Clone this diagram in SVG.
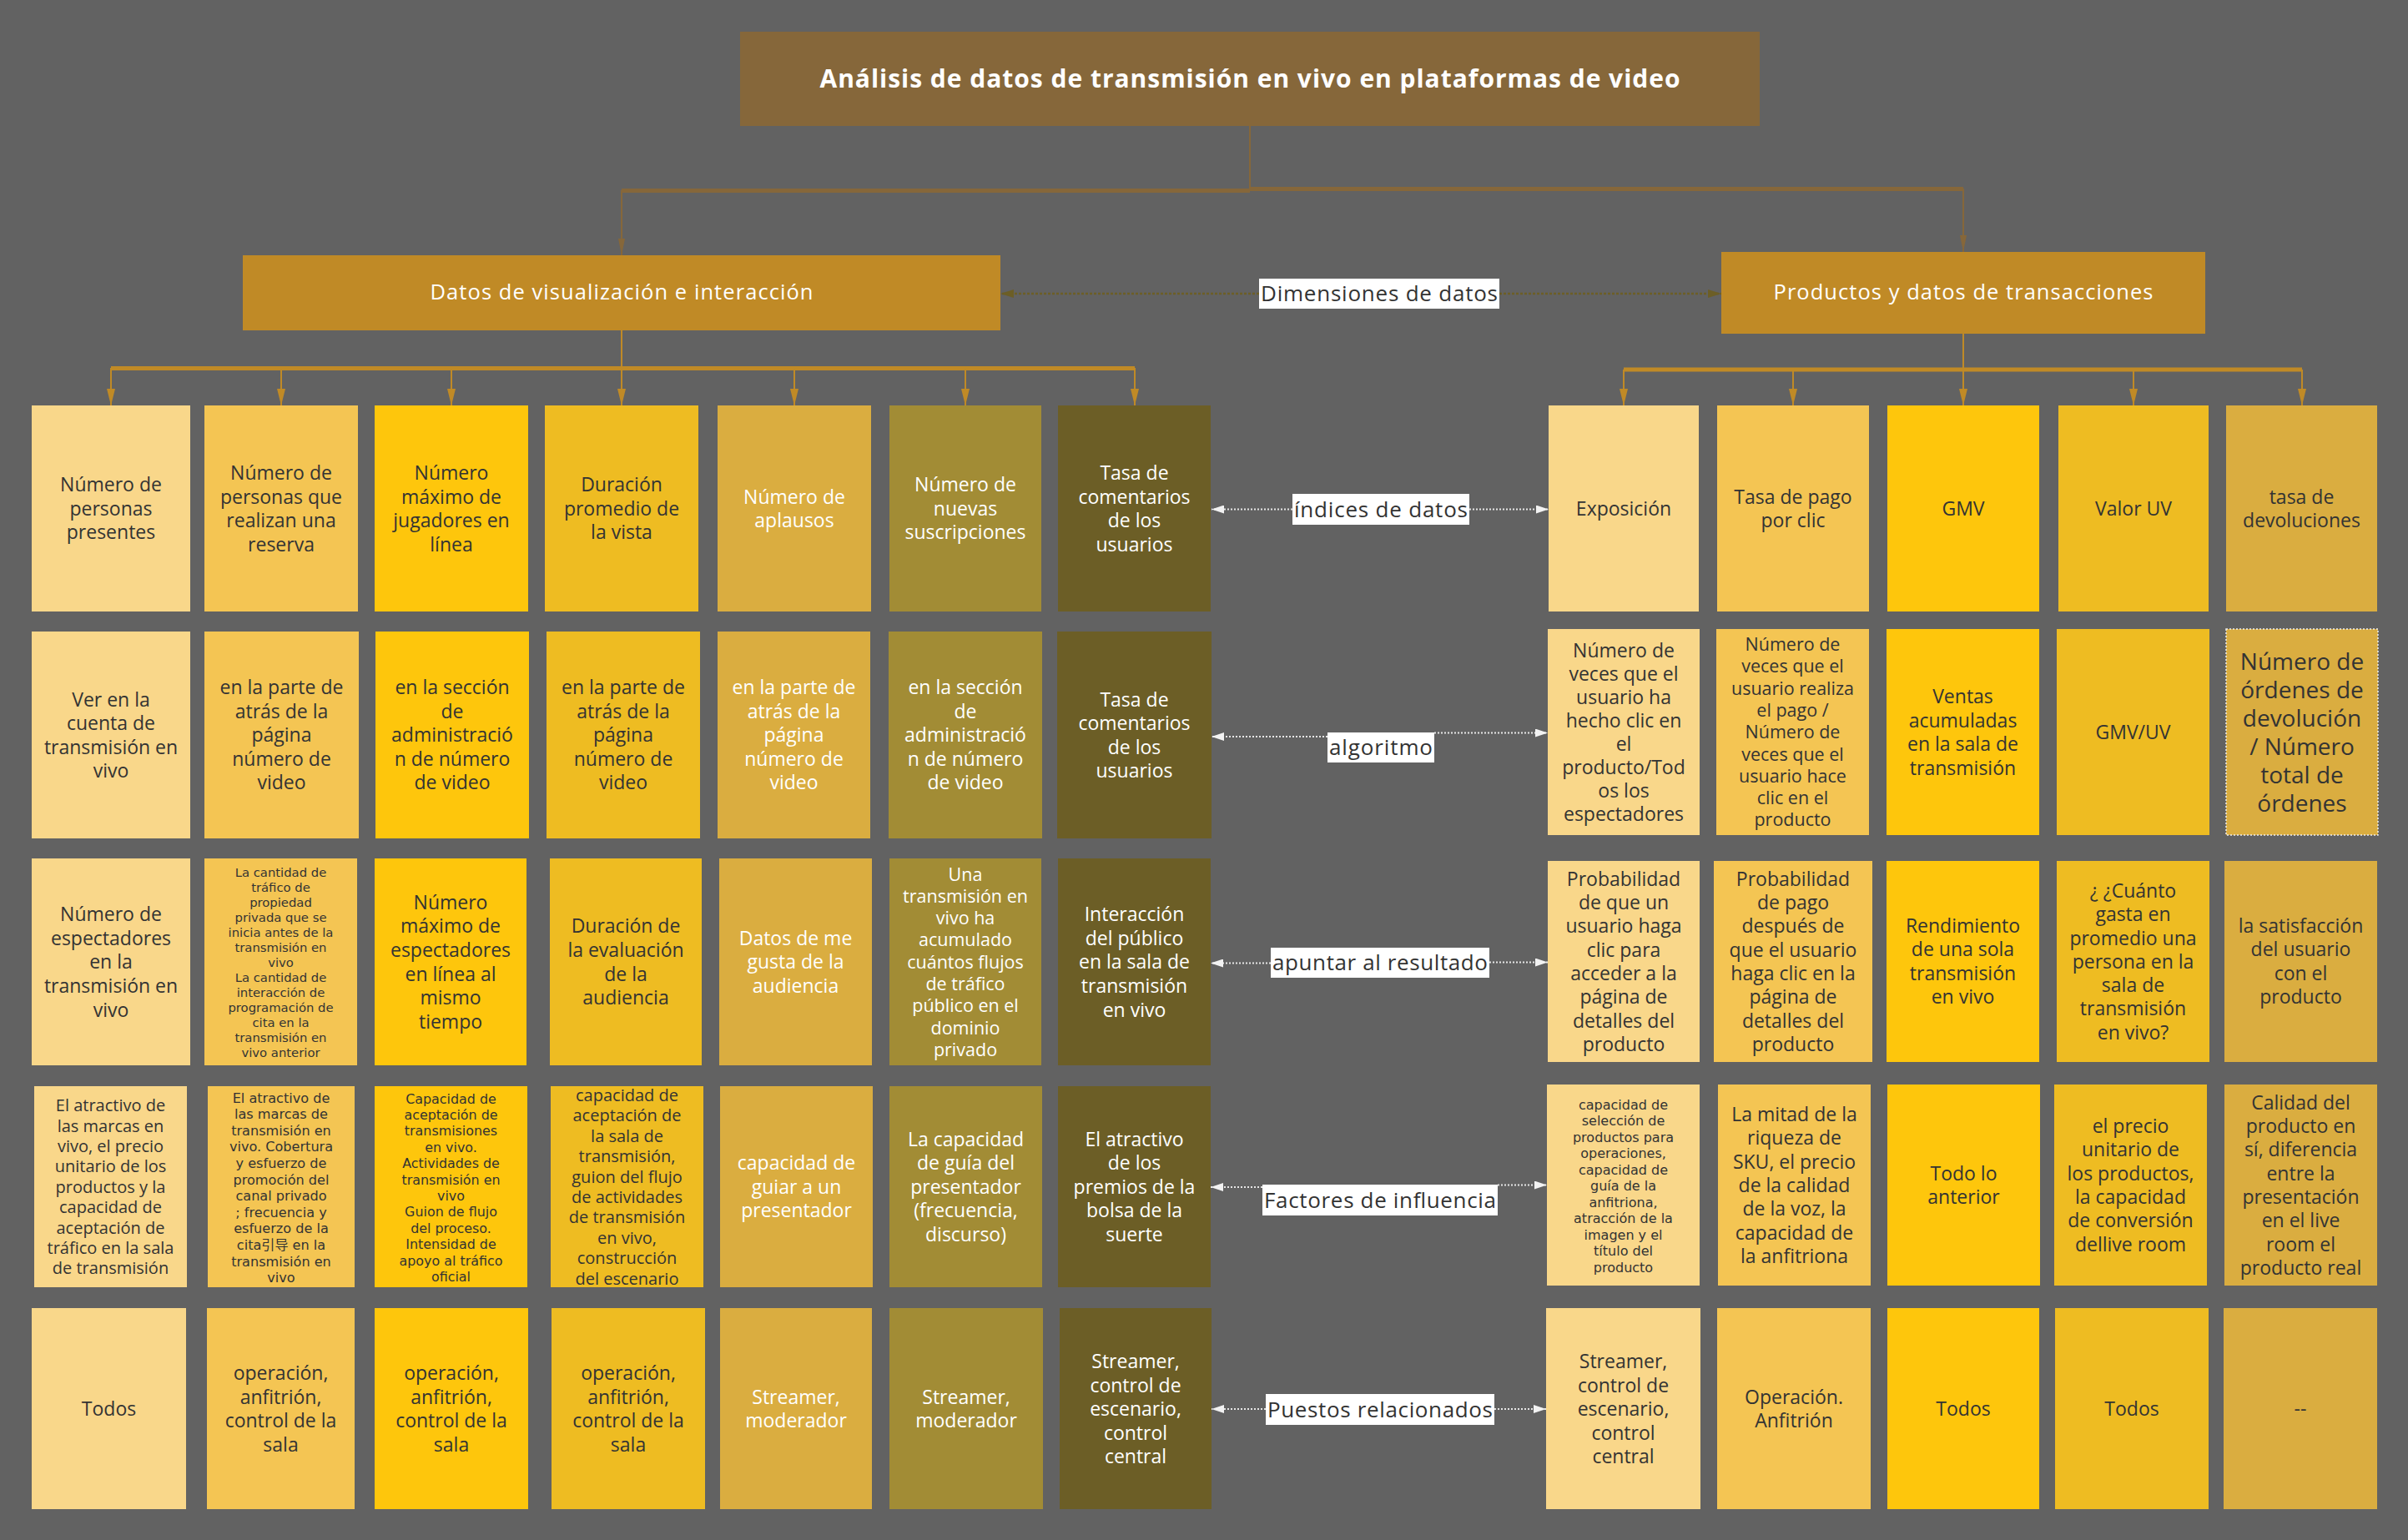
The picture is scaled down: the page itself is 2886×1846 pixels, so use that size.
<svg xmlns="http://www.w3.org/2000/svg" width="2886" height="1846" viewBox="0 0 2886 1846">
<defs>
<style>
.bg{fill:#626262}
.root{fill:#86673A}
.l1{fill:#C08A26}
.c1{fill:#F9D78A}.c2{fill:#F4C553}.c3{fill:#FEC60C}.c4{fill:#EEBC22}.c5{fill:#DAAD40}.c6{fill:#A28C35}.c7{fill:#6C5E26}
text{font-family:"Open Sans","Noto Sans","Noto Sans CJK SC",sans-serif;text-anchor:middle;fill:#333}
.w{fill:#fff}
.title{font-size:30px;font-weight:bold;fill:#fff}
.h1{font-size:25.5px;fill:#fff}
.lab{font-size:26px;fill:#333}
.f23{font-size:23px}.f21{font-size:21.5px}.f20{font-size:20px}.f28{font-size:28px}
.tight{font-family:"DejaVu Sans","Noto Sans CJK SC",sans-serif}
.k1{fill:none;stroke:#86673A;stroke-width:2}
.k1h{fill:none;stroke:#86673A;stroke-width:5}
.k2{fill:none;stroke:#C08A26;stroke-width:2}
.k2h{fill:none;stroke:#C08A26;stroke-width:5}
.dw{fill:none;stroke:#e6e6e6;stroke-width:2;stroke-dasharray:2 2}
.dol{fill:none;stroke:#6C5E26;stroke-width:2.5;stroke-dasharray:3 2}
.lbox{fill:#fff}
</style>
<marker id="mb" viewBox="0 0 20 8" refX="20" refY="4" markerWidth="20" markerHeight="8" orient="auto" markerUnits="userSpaceOnUse"><path d="M0,0 L20,4 L0,8 z" fill="#86673A"/></marker>
<marker id="mg" viewBox="0 0 20 10" refX="20" refY="5" markerWidth="20" markerHeight="10" orient="auto" markerUnits="userSpaceOnUse"><path d="M0,0 L20,5 L0,10 z" fill="#C08A26"/></marker>
<marker id="mw" viewBox="0 0 15 10" refX="15" refY="5" markerWidth="15" markerHeight="10" orient="auto" markerUnits="userSpaceOnUse"><path d="M0,0 L15,5 L0,10 z" fill="#f2f2f2"/></marker>
<marker id="mo" viewBox="0 0 16 10" refX="16" refY="5" markerWidth="16" markerHeight="10" orient="auto" markerUnits="userSpaceOnUse"><path d="M0,0 L16,5 L0,10 z" fill="#6C5E26"/></marker>
</defs>
<rect class="bg" x="0" y="0" width="2886" height="1846"/>

<g id="connectors">
<path class="k1" d="M1498,151 V228"/>
<path class="k1h" d="M745,228.5 H1498"/>
<path class="k1h" d="M1498,226.5 H2353"/>
<path class="k1" d="M745,228 V306" marker-end="url(#mb)"/>
<path class="k1" d="M2353,226 V302" marker-end="url(#mb)"/>
<path class="dol" d="M1509,352 H1199" marker-end="url(#mo)"/>
<path class="dol" d="M1797,352 H2063" marker-end="url(#mo)"/>
<path class="k2" d="M745,396 V441"/>
<path class="k2h" d="M133,441.5 H1360"/>
<path class="k2" d="M133,441 V486" marker-end="url(#mg)"/>
<path class="k2" d="M337,441 V486" marker-end="url(#mg)"/>
<path class="k2" d="M541,441 V486" marker-end="url(#mg)"/>
<path class="k2" d="M745,441 V486" marker-end="url(#mg)"/>
<path class="k2" d="M952,441 V486" marker-end="url(#mg)"/>
<path class="k2" d="M1157,441 V486" marker-end="url(#mg)"/>
<path class="k2" d="M1360,441 V486" marker-end="url(#mg)"/>
<path class="k2" d="M2353,400 V443"/>
<path class="k2h" d="M1946,443 H2759"/>
<path class="k2" d="M1946,443 V486" marker-end="url(#mg)"/>
<path class="k2" d="M2149,443 V486" marker-end="url(#mg)"/>
<path class="k2" d="M2353,443 V486" marker-end="url(#mg)"/>
<path class="k2" d="M2557,443 V486" marker-end="url(#mg)"/>
<path class="k2" d="M2759,443 V486" marker-end="url(#mg)"/>
<path class="dw" d="M1549,610.5 H1452" marker-end="url(#mw)"/>
<path class="dw" d="M1761,610.5 H1856" marker-end="url(#mw)"/>
<path class="dw" d="M1591,883 H1452" marker-end="url(#mw)"/>
<path class="dw" d="M1719,878.5 H1855" marker-end="url(#mw)"/>
<path class="dw" d="M1523,1154.5 H1451" marker-end="url(#mw)"/>
<path class="dw" d="M1785,1153.5 H1855" marker-end="url(#mw)"/>
<path class="dw" d="M1513,1423 H1451" marker-end="url(#mw)"/>
<path class="dw" d="M1795,1420.5 H1854" marker-end="url(#mw)"/>
<path class="dw" d="M1517,1689 H1452" marker-end="url(#mw)"/>
<path class="dw" d="M1791,1689 H1853" marker-end="url(#mw)"/>
</g>

<g id="root"><rect class="root" x="887" y="38" width="1222" height="113"/><text class="title" x="1498" y="105" textLength="1031">Análisis de datos de transmisión en vivo en plataformas de video</text></g>
<g id="dim-left"><rect class="l1" x="291" y="306" width="908" height="90"/><text class="h1" x="745" y="359" textLength="459">Datos de visualización e interacción</text></g>
<g id="dim-right"><rect class="l1" x="2063" y="302" width="580" height="98"/><text class="h1" x="2353" y="359" textLength="455">Productos y datos de transacciones</text></g>

<g id="label-dim"><rect class="lbox" x="1509" y="334" width="288" height="36"/><text class="lab" x="1653" y="361" textLength="284">Dimensiones de datos</text></g>
<g id="label-indices"><rect class="lbox" x="1549" y="592" width="212" height="37"/><text class="lab" x="1655" y="620" textLength="208">índices de datos</text></g>
<g id="label-algoritmo"><rect class="lbox" x="1591" y="878" width="128" height="36"/><text class="lab" x="1655" y="905" textLength="124">algoritmo</text></g>
<g id="label-apuntar"><rect class="lbox" x="1523" y="1136" width="262" height="36"/><text class="lab" x="1654" y="1163" textLength="258">apuntar al resultado</text></g>
<g id="label-factores"><rect class="lbox" x="1513" y="1420" width="282" height="37"/><text class="lab" x="1654" y="1448" textLength="278">Factores de influencia</text></g>
<g id="label-puestos"><rect class="lbox" x="1517" y="1671" width="274" height="37"/><text class="lab" x="1654" y="1699" textLength="270">Puestos relacionados</text></g>

<!-- Row 1 left -->
<g id="r1l1"><rect class="c1" x="38" y="486" width="190" height="247"/><text class="f23" y="589.3"><tspan x="133">Número de</tspan><tspan x="133" dy="28.5">personas</tspan><tspan x="133" dy="28.5">presentes</tspan></text></g>
<g id="r1l2"><rect class="c2" x="245" y="486" width="184" height="247"/><text class="f23" y="575"><tspan x="337">Número de</tspan><tspan x="337" dy="28.5">personas que</tspan><tspan x="337" dy="28.5">realizan una</tspan><tspan x="337" dy="28.5">reserva</tspan></text></g>
<g id="r1l3"><rect class="c3" x="449" y="486" width="184" height="247"/><text class="f23" y="575"><tspan x="541">Número</tspan><tspan x="541" dy="28.5">máximo de</tspan><tspan x="541" dy="28.5">jugadores en</tspan><tspan x="541" dy="28.5">línea</tspan></text></g>
<g id="r1l4"><rect class="c4" x="653" y="486" width="184" height="247"/><text class="f23" y="589.3"><tspan x="745">Duración</tspan><tspan x="745" dy="28.5">promedio de</tspan><tspan x="745" dy="28.5">la vista</tspan></text></g>
<g id="r1l5"><rect class="c5" x="860" y="486" width="184" height="247"/><text class="f23 w" y="603.5"><tspan x="952">Número de</tspan><tspan x="952" dy="28.5">aplausos</tspan></text></g>
<g id="r1l6"><rect class="c6" x="1066" y="486" width="182" height="247"/><text class="f23 w" y="589.3"><tspan x="1157">Número de</tspan><tspan x="1157" dy="28.5">nuevas</tspan><tspan x="1157" dy="28.5">suscripciones</tspan></text></g>
<g id="r1l7"><rect class="c7" x="1268" y="486" width="183" height="247"/><text class="f23 w" y="575"><tspan x="1359.5">Tasa de</tspan><tspan x="1359.5" dy="28.5">comentarios</tspan><tspan x="1359.5" dy="28.5">de los</tspan><tspan x="1359.5" dy="28.5">usuarios</tspan></text></g>

<!-- Row 1 right -->
<g id="r1r1"><rect class="c1" x="1856" y="486" width="180" height="247"/><text class="f23" x="1946" y="617.8">Exposición</text></g>
<g id="r1r2"><rect class="c2" x="2058" y="486" width="182" height="247"/><text class="f23" y="603.5"><tspan x="2149">Tasa de pago</tspan><tspan x="2149" dy="28.5">por clic</tspan></text></g>
<g id="r1r3"><rect class="c3" x="2262" y="486" width="182" height="247"/><text class="f23" x="2353" y="617.8">GMV</text></g>
<g id="r1r4"><rect class="c4" x="2467" y="486" width="180" height="247"/><text class="f23" x="2557" y="617.8">Valor UV</text></g>
<g id="r1r5"><rect class="c5" x="2668" y="486" width="181" height="247"/><text class="f23" y="603.5"><tspan x="2758.5">tasa de</tspan><tspan x="2758.5" dy="28.5">devoluciones</tspan></text></g>

<!-- Row 2 left -->
<g id="r2l1"><rect class="c1" x="38" y="757" width="190" height="248"/><text class="f23" y="846.5"><tspan x="133">Ver en la</tspan><tspan x="133" dy="28.5">cuenta de</tspan><tspan x="133" dy="28.5">transmisión en</tspan><tspan x="133" dy="28.5">vivo</tspan></text></g>
<g id="r2l2"><rect class="c2" x="245" y="757" width="185" height="248"/><text class="f23" y="832.3"><tspan x="337.5">en la parte de</tspan><tspan x="337.5" dy="28.5">atrás de la</tspan><tspan x="337.5" dy="28.5">página</tspan><tspan x="337.5" dy="28.5">número de</tspan><tspan x="337.5" dy="28.5">video</tspan></text></g>
<g id="r2l3"><rect class="c3" x="450" y="757" width="184" height="248"/><text class="f23" y="832.3"><tspan x="542">en la sección</tspan><tspan x="542" dy="28.5">de</tspan><tspan x="542" dy="28.5">administració</tspan><tspan x="542" dy="28.5">n de número</tspan><tspan x="542" dy="28.5">de video</tspan></text></g>
<g id="r2l4"><rect class="c4" x="655" y="757" width="184" height="248"/><text class="f23" y="832.3"><tspan x="747">en la parte de</tspan><tspan x="747" dy="28.5">atrás de la</tspan><tspan x="747" dy="28.5">página</tspan><tspan x="747" dy="28.5">número de</tspan><tspan x="747" dy="28.5">video</tspan></text></g>
<g id="r2l5"><rect class="c5" x="860" y="757" width="183" height="248"/><text class="f23 w" y="832.3"><tspan x="951.5">en la parte de</tspan><tspan x="951.5" dy="28.5">atrás de la</tspan><tspan x="951.5" dy="28.5">página</tspan><tspan x="951.5" dy="28.5">número de</tspan><tspan x="951.5" dy="28.5">video</tspan></text></g>
<g id="r2l6"><rect class="c6" x="1065" y="757" width="184" height="248"/><text class="f23 w" y="832.3"><tspan x="1157">en la sección</tspan><tspan x="1157" dy="28.5">de</tspan><tspan x="1157" dy="28.5">administració</tspan><tspan x="1157" dy="28.5">n de número</tspan><tspan x="1157" dy="28.5">de video</tspan></text></g>
<g id="r2l7"><rect class="c7" x="1267" y="757" width="185" height="248"/><text class="f23 w" y="846.5"><tspan x="1359.5">Tasa de</tspan><tspan x="1359.5" dy="28.5">comentarios</tspan><tspan x="1359.5" dy="28.5">de los</tspan><tspan x="1359.5" dy="28.5">usuarios</tspan></text></g>

<!-- Row 2 right -->
<g id="r2r1"><rect class="c1" x="1855" y="754" width="182" height="247"/><text class="f23" y="787.8"><tspan x="1946">Número de</tspan><tspan x="1946" dy="28">veces que el</tspan><tspan x="1946" dy="28">usuario ha</tspan><tspan x="1946" dy="28">hecho clic en</tspan><tspan x="1946" dy="28">el</tspan><tspan x="1946" dy="28">producto/Tod</tspan><tspan x="1946" dy="28">os los</tspan><tspan x="1946" dy="28">espectadores</tspan></text></g>
<g id="r2r2"><rect class="c2" x="2057" y="754" width="183" height="247"/><text class="f21" y="780"><tspan x="2148.5">Número de</tspan><tspan x="2148.5" dy="26.3">veces que el</tspan><tspan x="2148.5" dy="26.3">usuario realiza</tspan><tspan x="2148.5" dy="26.3">el pago /</tspan><tspan x="2148.5" dy="26.3">Número de</tspan><tspan x="2148.5" dy="26.3">veces que el</tspan><tspan x="2148.5" dy="26.3">usuario hace</tspan><tspan x="2148.5" dy="26.3">clic en el</tspan><tspan x="2148.5" dy="26.3">producto</tspan></text></g>
<g id="r2r3"><rect class="c3" x="2261" y="754" width="183" height="247"/><text class="f23" y="843"><tspan x="2352.5">Ventas</tspan><tspan x="2352.5" dy="28.5">acumuladas</tspan><tspan x="2352.5" dy="28.5">en la sala de</tspan><tspan x="2352.5" dy="28.5">transmisión</tspan></text></g>
<g id="r2r4"><rect class="c4" x="2465" y="754" width="183" height="247"/><text class="f23" x="2556.5" y="885.8">GMV/UV</text></g>
<g id="r2r5"><rect class="c5" x="2668" y="754" width="182" height="247" stroke="#eeeeee" stroke-width="1.5" stroke-dasharray="2 2"/><text class="f28" y="802.5"><tspan x="2759">Número de</tspan><tspan x="2759" dy="34">órdenes de</tspan><tspan x="2759" dy="34">devolución</tspan><tspan x="2759" dy="34">/ Número</tspan><tspan x="2759" dy="34">total de</tspan><tspan x="2759" dy="34">órdenes</tspan></text></g>

<!-- Row 3 left -->
<g id="r3l1"><rect class="c1" x="38" y="1029" width="190" height="248"/><text class="f23" y="1104.1"><tspan x="133">Número de</tspan><tspan x="133" dy="28.6">espectadores</tspan><tspan x="133" dy="28.6">en la</tspan><tspan x="133" dy="28.6">transmisión en</tspan><tspan x="133" dy="28.6">vivo</tspan></text></g>
<g id="r3l2"><rect class="c2" x="245" y="1029" width="183" height="248"/><text class="tight" font-size="14.8" y="1050.5"><tspan x="336.5">La cantidad de</tspan><tspan x="336.5" dy="18">tráfico de</tspan><tspan x="336.5" dy="18">propiedad</tspan><tspan x="336.5" dy="18">privada que se</tspan><tspan x="336.5" dy="18">inicia antes de la</tspan><tspan x="336.5" dy="18">transmisión en</tspan><tspan x="336.5" dy="18">vivo</tspan><tspan x="336.5" dy="18">La cantidad de</tspan><tspan x="336.5" dy="18">interacción de</tspan><tspan x="336.5" dy="18">programación de</tspan><tspan x="336.5" dy="18">cita en la</tspan><tspan x="336.5" dy="18">transmisión en</tspan><tspan x="336.5" dy="18">vivo anterior</tspan></text></g>
<g id="r3l3"><rect class="c3" x="449" y="1029" width="182" height="248"/><text class="f23" y="1089.8"><tspan x="540">Número</tspan><tspan x="540" dy="28.6">máximo de</tspan><tspan x="540" dy="28.6">espectadores</tspan><tspan x="540" dy="28.6">en línea al</tspan><tspan x="540" dy="28.6">mismo</tspan><tspan x="540" dy="28.6">tiempo</tspan></text></g>
<g id="r3l4"><rect class="c4" x="659" y="1029" width="182" height="248"/><text class="f23" y="1118.4"><tspan x="750">Duración de</tspan><tspan x="750" dy="28.6">la evaluación</tspan><tspan x="750" dy="28.6">de la</tspan><tspan x="750" dy="28.6">audiencia</tspan></text></g>
<g id="r3l5"><rect class="c5" x="862" y="1029" width="183" height="248"/><text class="f23 w" y="1132.7"><tspan x="953.5">Datos de me</tspan><tspan x="953.5" dy="28.6">gusta de la</tspan><tspan x="953.5" dy="28.6">audiencia</tspan></text></g>
<g id="r3l6"><rect class="c6" x="1066" y="1029" width="182" height="248"/><text class="f21 w" y="1055.5"><tspan x="1157">Una</tspan><tspan x="1157" dy="26.3">transmisión en</tspan><tspan x="1157" dy="26.3">vivo ha</tspan><tspan x="1157" dy="26.3">acumulado</tspan><tspan x="1157" dy="26.3">cuántos flujos</tspan><tspan x="1157" dy="26.3">de tráfico</tspan><tspan x="1157" dy="26.3">público en el</tspan><tspan x="1157" dy="26.3">dominio</tspan><tspan x="1157" dy="26.3">privado</tspan></text></g>
<g id="r3l7"><rect class="c7" x="1268" y="1029" width="183" height="248"/><text class="f23 w" y="1104.1"><tspan x="1359.5">Interacción</tspan><tspan x="1359.5" dy="28.6">del público</tspan><tspan x="1359.5" dy="28.6">en la sala de</tspan><tspan x="1359.5" dy="28.6">transmisión</tspan><tspan x="1359.5" dy="28.6">en vivo</tspan></text></g>

<!-- Row 3 right -->
<g id="r3r1"><rect class="c1" x="1855" y="1032" width="182" height="241"/><text class="f23" y="1061.8"><tspan x="1946">Probabilidad</tspan><tspan x="1946" dy="28.3">de que un</tspan><tspan x="1946" dy="28.3">usuario haga</tspan><tspan x="1946" dy="28.3">clic para</tspan><tspan x="1946" dy="28.3">acceder a la</tspan><tspan x="1946" dy="28.3">página de</tspan><tspan x="1946" dy="28.3">detalles del</tspan><tspan x="1946" dy="28.3">producto</tspan></text></g>
<g id="r3r2"><rect class="c2" x="2054" y="1032" width="190" height="241"/><text class="f23" y="1061.8"><tspan x="2149">Probabilidad</tspan><tspan x="2149" dy="28.3">de pago</tspan><tspan x="2149" dy="28.3">después de</tspan><tspan x="2149" dy="28.3">que el usuario</tspan><tspan x="2149" dy="28.3">haga clic en la</tspan><tspan x="2149" dy="28.3">página de</tspan><tspan x="2149" dy="28.3">detalles del</tspan><tspan x="2149" dy="28.3">producto</tspan></text></g>
<g id="r3r3"><rect class="c3" x="2261" y="1032" width="183" height="241"/><text class="f23" y="1117.6"><tspan x="2352.5">Rendimiento</tspan><tspan x="2352.5" dy="28.5">de una sola</tspan><tspan x="2352.5" dy="28.5">transmisión</tspan><tspan x="2352.5" dy="28.5">en vivo</tspan></text></g>
<g id="r3r4"><rect class="c4" x="2465" y="1032" width="183" height="241"/><text class="f23" y="1075.9"><tspan x="2556.5">¿ ¿Cuánto</tspan><tspan x="2556.5" dy="28.3">gasta en</tspan><tspan x="2556.5" dy="28.3">promedio una</tspan><tspan x="2556.5" dy="28.3">persona en la</tspan><tspan x="2556.5" dy="28.3">sala de</tspan><tspan x="2556.5" dy="28.3">transmisión</tspan><tspan x="2556.5" dy="28.3">en vivo?</tspan></text></g>
<g id="r3r5"><rect class="c5" x="2666" y="1032" width="183" height="241"/><text class="f23" y="1117.6"><tspan x="2757.5">la satisfacción</tspan><tspan x="2757.5" dy="28.5">del usuario</tspan><tspan x="2757.5" dy="28.5">con el</tspan><tspan x="2757.5" dy="28.5">producto</tspan></text></g>

<!-- Row 4 left -->
<g id="r4l1"><rect class="c1" x="41" y="1302" width="183" height="241"/><text class="f20" y="1332.1"><tspan x="132.5">El atractivo de</tspan><tspan x="132.5" dy="24.4">las marcas en</tspan><tspan x="132.5" dy="24.4">vivo, el precio</tspan><tspan x="132.5" dy="24.4">unitario de los</tspan><tspan x="132.5" dy="24.4">productos y la</tspan><tspan x="132.5" dy="24.4">capacidad de</tspan><tspan x="132.5" dy="24.4">aceptación de</tspan><tspan x="132.5" dy="24.4">tráfico en la sala</tspan><tspan x="132.5" dy="24.4">de transmisión</tspan></text></g>
<g id="r4l2"><rect class="c2" x="249" y="1302" width="176" height="241"/><text class="tight" font-size="16.1" y="1321.5"><tspan x="337">El atractivo de</tspan><tspan x="337" dy="19.6">las marcas de</tspan><tspan x="337" dy="19.6">transmisión en</tspan><tspan x="337" dy="19.6">vivo. Cobertura</tspan><tspan x="337" dy="19.6">y esfuerzo de</tspan><tspan x="337" dy="19.6">promoción del</tspan><tspan x="337" dy="19.6">canal privado</tspan><tspan x="337" dy="19.6">; frecuencia y</tspan><tspan x="337" dy="19.6">esfuerzo de la</tspan><tspan x="337" dy="19.6">cita引导 en la</tspan><tspan x="337" dy="19.6">transmisión en</tspan><tspan x="337" dy="19.6">vivo</tspan></text></g>
<g id="r4l3"><rect class="c3" x="449" y="1302" width="183" height="241"/><text class="tight" font-size="15.9" y="1322.5"><tspan x="540.5">Capacidad de</tspan><tspan x="540.5" dy="19.4">aceptación de</tspan><tspan x="540.5" dy="19.4">transmisiones</tspan><tspan x="540.5" dy="19.4">en vivo.</tspan><tspan x="540.5" dy="19.4">Actividades de</tspan><tspan x="540.5" dy="19.4">transmisión en</tspan><tspan x="540.5" dy="19.4">vivo</tspan><tspan x="540.5" dy="19.4">Guion de flujo</tspan><tspan x="540.5" dy="19.4">del proceso.</tspan><tspan x="540.5" dy="19.4">Intensidad de</tspan><tspan x="540.5" dy="19.4">apoyo al tráfico</tspan><tspan x="540.5" dy="19.4">oficial</tspan></text></g>
<g id="r4l4"><rect class="c4" x="660" y="1302" width="183" height="241"/><text class="f20" y="1319.9"><tspan x="751.5">capacidad de</tspan><tspan x="751.5" dy="24.4">aceptación de</tspan><tspan x="751.5" dy="24.4">la sala de</tspan><tspan x="751.5" dy="24.4">transmisión,</tspan><tspan x="751.5" dy="24.4">guion del flujo</tspan><tspan x="751.5" dy="24.4">de actividades</tspan><tspan x="751.5" dy="24.4">de transmisión</tspan><tspan x="751.5" dy="24.4">en vivo,</tspan><tspan x="751.5" dy="24.4">construcción</tspan><tspan x="751.5" dy="24.4">del escenario</tspan></text></g>
<g id="r4l5"><rect class="c5" x="863" y="1302" width="183" height="241"/><text class="f23 w" y="1402.2"><tspan x="954.5">capacidad de</tspan><tspan x="954.5" dy="28.6">guiar a un</tspan><tspan x="954.5" dy="28.6">presentador</tspan></text></g>
<g id="r4l6"><rect class="c6" x="1066" y="1302" width="183" height="241"/><text class="f23 w" y="1373.6"><tspan x="1157.5">La capacidad</tspan><tspan x="1157.5" dy="28.6">de guía del</tspan><tspan x="1157.5" dy="28.6">presentador</tspan><tspan x="1157.5" dy="28.6">(frecuencia,</tspan><tspan x="1157.5" dy="28.6">discurso)</tspan></text></g>
<g id="r4l7"><rect class="c7" x="1268" y="1302" width="183" height="241"/><text class="f23 w" y="1373.6"><tspan x="1359.5">El atractivo</tspan><tspan x="1359.5" dy="28.6">de los</tspan><tspan x="1359.5" dy="28.6">premios de la</tspan><tspan x="1359.5" dy="28.6">bolsa de la</tspan><tspan x="1359.5" dy="28.6">suerte</tspan></text></g>

<!-- Row 4 right -->
<g id="r4r1"><rect class="c1" x="1854" y="1300" width="183" height="241"/><text class="tight" font-size="16" y="1329.5"><tspan x="1945.5">capacidad de</tspan><tspan x="1945.5" dy="19.5">selección de</tspan><tspan x="1945.5" dy="19.5">productos para</tspan><tspan x="1945.5" dy="19.5">operaciones,</tspan><tspan x="1945.5" dy="19.5">capacidad de</tspan><tspan x="1945.5" dy="19.5">guía de la</tspan><tspan x="1945.5" dy="19.5">anfitriona,</tspan><tspan x="1945.5" dy="19.5">atracción de la</tspan><tspan x="1945.5" dy="19.5">imagen y el</tspan><tspan x="1945.5" dy="19.5">título del</tspan><tspan x="1945.5" dy="19.5">producto</tspan></text></g>
<g id="r4r2"><rect class="c2" x="2059" y="1300" width="183" height="241"/><text class="f23" y="1344"><tspan x="2150.5">La mitad de la</tspan><tspan x="2150.5" dy="28.3">riqueza de</tspan><tspan x="2150.5" dy="28.3">SKU, el precio</tspan><tspan x="2150.5" dy="28.3">de la calidad</tspan><tspan x="2150.5" dy="28.3">de la voz, la</tspan><tspan x="2150.5" dy="28.3">capacidad de</tspan><tspan x="2150.5" dy="28.3">la anfitriona</tspan></text></g>
<g id="r4r3"><rect class="c3" x="2262" y="1300" width="183" height="241"/><text class="f23" y="1414.5"><tspan x="2353.5">Todo lo</tspan><tspan x="2353.5" dy="28.5">anterior</tspan></text></g>
<g id="r4r4"><rect class="c4" x="2462" y="1300" width="183" height="241"/><text class="f23" y="1358"><tspan x="2553.5">el precio</tspan><tspan x="2553.5" dy="28.3">unitario de</tspan><tspan x="2553.5" dy="28.3">los productos,</tspan><tspan x="2553.5" dy="28.3">la capacidad</tspan><tspan x="2553.5" dy="28.3">de conversión</tspan><tspan x="2553.5" dy="28.3">dellive room</tspan></text></g>
<g id="r4r5"><rect class="c5" x="2666" y="1300" width="183" height="241"/><text class="f23" y="1329.8"><tspan x="2757.5">Calidad del</tspan><tspan x="2757.5" dy="28.3">producto en</tspan><tspan x="2757.5" dy="28.3">sí, diferencia</tspan><tspan x="2757.5" dy="28.3">entre la</tspan><tspan x="2757.5" dy="28.3">presentación</tspan><tspan x="2757.5" dy="28.3">en el live</tspan><tspan x="2757.5" dy="28.3">room el</tspan><tspan x="2757.5" dy="28.3">producto real</tspan></text></g>

<!-- Row 5 left -->
<g id="r5l1"><rect class="c1" x="38" y="1568" width="185" height="241"/><text class="f23" x="130.5" y="1696.8">Todos</text></g>
<g id="r5l2"><rect class="c2" x="248" y="1568" width="177" height="241"/><text class="f23" y="1654"><tspan x="336.5">operación,</tspan><tspan x="336.5" dy="28.5">anfitrión,</tspan><tspan x="336.5" dy="28.5">control de la</tspan><tspan x="336.5" dy="28.5">sala</tspan></text></g>
<g id="r5l3"><rect class="c3" x="449" y="1568" width="184" height="241"/><text class="f23" y="1654"><tspan x="541">operación,</tspan><tspan x="541" dy="28.5">anfitrión,</tspan><tspan x="541" dy="28.5">control de la</tspan><tspan x="541" dy="28.5">sala</tspan></text></g>
<g id="r5l4"><rect class="c4" x="661" y="1568" width="184" height="241"/><text class="f23" y="1654"><tspan x="753">operación,</tspan><tspan x="753" dy="28.5">anfitrión,</tspan><tspan x="753" dy="28.5">control de la</tspan><tspan x="753" dy="28.5">sala</tspan></text></g>
<g id="r5l5"><rect class="c5" x="863" y="1568" width="182" height="241"/><text class="f23 w" y="1682.5"><tspan x="954">Streamer,</tspan><tspan x="954" dy="28.5">moderador</tspan></text></g>
<g id="r5l6"><rect class="c6" x="1066" y="1568" width="184" height="241"/><text class="f23 w" y="1682.5"><tspan x="1158">Streamer,</tspan><tspan x="1158" dy="28.5">moderador</tspan></text></g>
<g id="r5l7"><rect class="c7" x="1270" y="1568" width="182" height="241"/><text class="f23 w" y="1640"><tspan x="1361">Streamer,</tspan><tspan x="1361" dy="28.5">control de</tspan><tspan x="1361" dy="28.5">escenario,</tspan><tspan x="1361" dy="28.5">control</tspan><tspan x="1361" dy="28.5">central</tspan></text></g>

<!-- Row 5 right -->
<g id="r5r1"><rect class="c1" x="1853" y="1568" width="185" height="241"/><text class="f23" y="1640"><tspan x="1945.5">Streamer,</tspan><tspan x="1945.5" dy="28.5">control de</tspan><tspan x="1945.5" dy="28.5">escenario,</tspan><tspan x="1945.5" dy="28.5">control</tspan><tspan x="1945.5" dy="28.5">central</tspan></text></g>
<g id="r5r2"><rect class="c2" x="2058" y="1568" width="184" height="241"/><text class="f23" y="1682.5"><tspan x="2150">Operación.</tspan><tspan x="2150" dy="28.5">Anfitrión</tspan></text></g>
<g id="r5r3"><rect class="c3" x="2262" y="1568" width="182" height="241"/><text class="f23" x="2353" y="1696.8">Todos</text></g>
<g id="r5r4"><rect class="c4" x="2463" y="1568" width="184" height="241"/><text class="f23" x="2555" y="1696.8">Todos</text></g>
<g id="r5r5"><rect class="c5" x="2665" y="1568" width="184" height="241"/><text class="f23" x="2757" y="1696.8">--</text></g>
</svg>
